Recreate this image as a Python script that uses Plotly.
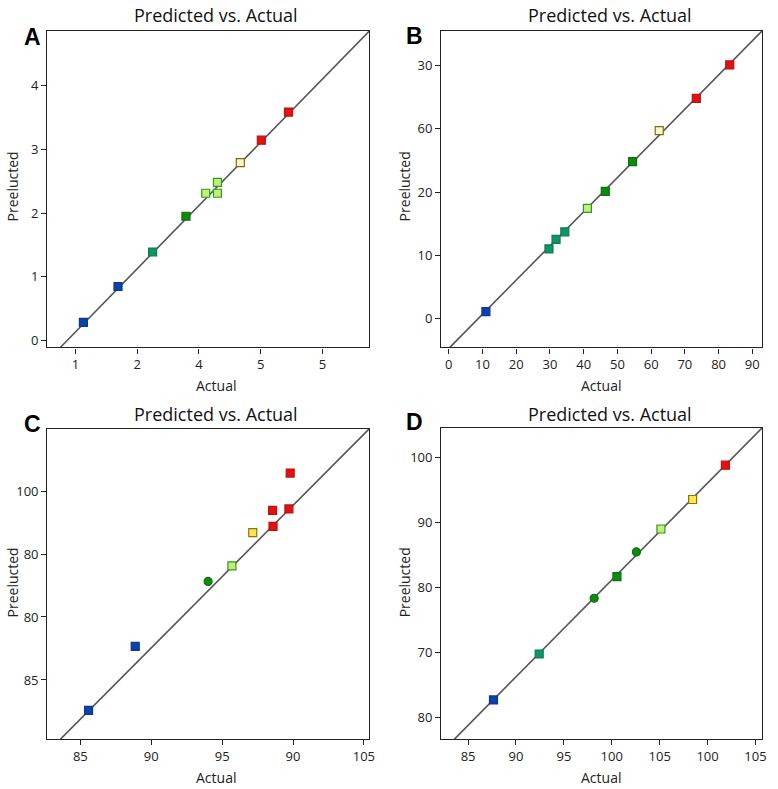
import plotly.graph_objects as go

# ---------------- data ----------------
# Panel A
a_actual = [1.13, 1.69, 2.25, 2.79, 3.11, 3.30, 3.30, 3.67, 4.01, 4.45]
a_pred = [0.29, 0.85, 1.39, 1.95, 2.31, 2.48, 2.31, 2.79, 3.14, 3.58]
a_xticks = [1, 2, 3, 4, 5]
a_xtext = ["1", "2", "4", "5", "5"]
a_yticks = [0, 1, 2, 3, 4]
a_ytext = ["0", "1", "2", "3", "4"]
a_diag_x = [0.76, 5.76]
a_diag_y = [-0.10, 4.85]

# Panel B
b_actual = [11.0, 29.7, 31.8, 34.4, 41.1, 46.4, 54.5, 62.4, 73.4, 83.3]
b_pred = [1.1, 11.0, 12.5, 13.7, 17.4, 20.1, 24.8, 29.7, 34.8, 40.1]
b_xticks = [0, 10, 20, 30, 40, 50, 60, 70, 80, 90]
b_xtext = ["0", "10", "20", "30", "40", "50", "60", "70", "80", "90"]
b_yticks = [0, 10, 20, 30, 40]
b_ytext = ["0", "10", "20", "60", "30"]
b_diag_x = [0.3, 92.9]
b_diag_y = [-4.57, 45.47]

# Panel C
c_actual = [85.58, 88.87, 94.01, 95.69, 97.16, 98.59, 98.56, 99.71, 99.80]
c_pred = [82.58, 87.67, 92.82, 94.06, 96.70, 97.20, 98.47, 98.58, 101.43]
c_xticks = [85, 90, 95, 100, 105]
c_xtext = ["85", "90", "95", "90", "105"]
c_yticks = [85, 90, 95, 100]
c_ytext = ["85", "80", "80", "100"]
c_diag_x = [83.6, 105.39]
c_diag_y = [80.30, 104.96]

# Panel D
d_actual = [87.65, 92.42, 98.16, 100.54, 102.57, 105.13, 108.44, 111.86]
d_pred = [62.76, 69.82, 78.40, 81.73, 85.52, 89.05, 93.59, 98.87]
d_xticks = [85, 90, 95, 100, 105, 110, 115]
d_xtext = ["85", "90", "95", "100", "105", "100", "105"]
d_yticks = [60, 70, 80, 90, 100]
d_ytext = ["80", "70", "80", "90", "100"]
d_diag_x = [83.58, 115.69]
d_diag_y = [56.73, 104.6]

# ---------------- styles ----------------
BLUE = ("#0b43a8", "#0a3a90")
TEAL = ("#109565", "#0d7a52")
GREEN = ("#0f8a10", "#0c700c")
LGREEN = ("#c2ee7a", "#2f9a22")
PYELLOW = ("#fbf6c8", "#7a6d10")
YELLOW = ("#ffe64a", "#8a7410")
RED = ("#e31212", "#c01010")

a_style = [BLUE, BLUE, TEAL, GREEN, LGREEN, LGREEN, LGREEN, PYELLOW, RED, RED]
a_sym = ["square"] * 10
b_style = [BLUE, TEAL, TEAL, TEAL, LGREEN, GREEN, GREEN, PYELLOW, RED, RED]
b_sym = ["square"] * 10
c_style = [BLUE, BLUE, GREEN, LGREEN, YELLOW, RED, RED, RED, RED]
c_sym = ["square", "square", "circle"] + ["square"] * 6
d_style = [BLUE, TEAL, GREEN, GREEN, GREEN, LGREEN, YELLOW, RED]
d_sym = ["square", "square", "circle", "square", "circle", "square", "square", "square"]

W, H = 778, 789
FONT = "Open Sans"

panels = [
    dict(x=a_actual, y=a_pred, xt=a_xticks, xtt=a_xtext, yt=a_yticks, ytt=a_ytext,
         dx=a_diag_x, dy=a_diag_y, st=a_style, sym=a_sym,
         xr=[0.546, 5.76], yr=[-0.103, 4.85], box=(47.7, 372.3, 31, 348.3),
         letter="A", lpos=(33, 37), tpos=(218, 15), ypos=(13, 187), xlpos=(218, 386)),
    dict(x=b_actual, y=b_pred, xt=b_xticks, xtt=b_xtext, yt=b_yticks, ytt=b_ytext,
         dx=b_diag_x, dy=b_diag_y, st=b_style, sym=b_sym,
         xr=[-2.24, 92.9], yr=[-4.57, 45.47], box=(444.7, 768, 31, 348.3),
         letter="B", lpos=(418, 36), tpos=(615, 15), ypos=(408, 187), xlpos=(606, 386)),
    dict(x=c_actual, y=c_pred, xt=c_xticks, xtt=c_xtext, yt=c_yticks, ytt=c_ytext,
         dx=c_diag_x, dy=c_diag_y, st=c_style, sym=c_sym,
         xr=[82.67, 105.39], yr=[80.30, 104.96], box=(47.7, 372.3, 429.7, 741),
         letter="C", lpos=(33, 425), tpos=(218, 415), ypos=(13, 584), xlpos=(218, 779)),
    dict(x=d_actual, y=d_pred, xt=d_xticks, xtt=d_xtext, yt=d_yticks, ytt=d_ytext,
         dx=d_diag_x, dy=d_diag_y, st=d_style, sym=d_sym,
         xr=[82.2, 115.69], yr=[56.73, 104.6], box=(444.7, 768, 429, 741),
         letter="D", lpos=(418, 423), tpos=(615, 415), ypos=(408, 584), xlpos=(606, 779)),
]

fig = go.Figure()
annotations = []
for i, p in enumerate(panels, start=1):
    xa = "x" if i == 1 else f"x{i}"
    ya = "y" if i == 1 else f"y{i}"
    fig.add_trace(go.Scatter(x=p["dx"], y=p["dy"], mode="lines",
                             line=dict(color="#555555", width=1.6),
                             xaxis=xa, yaxis=ya, showlegend=False, hoverinfo="skip"))
    fig.add_trace(go.Scatter(x=p["x"], y=p["y"], mode="markers",
                             marker=dict(symbol=p["sym"], size=8,
                                         color=[s[0] for s in p["st"]],
                                         line=dict(color=[s[1] for s in p["st"]], width=1.2)),
                             xaxis=xa, yaxis=ya, showlegend=False))
    x0, x1, y0, y1 = p["box"]
    axcommon = dict(showgrid=False, zeroline=False, showline=True, mirror=True,
                    linecolor="#222222", linewidth=1.4, ticks="outside", ticklen=5,
                    tickcolor="#222222", tickwidth=1,
                    tickfont=dict(family=FONT, size=13, color="#222222"))
    fig.update_layout(**{
        ("xaxis" if i == 1 else f"xaxis{i}"): dict(
            axcommon, domain=[x0 / W, x1 / W], range=p["xr"], anchor=ya,
            tickmode="array", tickvals=p["xt"], ticktext=p["xtt"]),
        ("yaxis" if i == 1 else f"yaxis{i}"): dict(
            axcommon, domain=[1 - y1 / H, 1 - y0 / H], range=p["yr"], anchor=xa,
            tickmode="array", tickvals=p["yt"], ticktext=p["ytt"]),
    })
    annotations.append(dict(text="Predicted vs. Actual", x=p["tpos"][0] / W, y=1 - p["tpos"][1] / H,
                            xref="paper", yref="paper", showarrow=False, xanchor="center", yanchor="middle",
                            font=dict(family=FONT, size=18, color="#111111")))
    annotations.append(dict(text="<b>" + p["letter"] + "</b>", x=p["lpos"][0] / W, y=1 - p["lpos"][1] / H,
                            xref="paper", yref="paper", showarrow=False, xanchor="center", yanchor="middle",
                            font=dict(family="Liberation Sans", size=23, color="#000000")))
    annotations.append(dict(text="Actual", x=p["xlpos"][0] / W, y=1 - p["xlpos"][1] / H,
                            xref="paper", yref="paper", showarrow=False, xanchor="center", yanchor="middle",
                            font=dict(family=FONT, size=14, color="#222222")))
    annotations.append(dict(text="Preelucted", x=p["ypos"][0] / W, y=1 - p["ypos"][1] / H,
                            xref="paper", yref="paper", showarrow=False, xanchor="center", yanchor="middle",
                            textangle=-90,
                            font=dict(family=FONT, size=14, color="#222222")))

fig.update_layout(width=W, height=H, margin=dict(l=0, r=0, t=0, b=0),
                  paper_bgcolor="white", plot_bgcolor="white",
                  annotations=annotations)
fig.write_html("out.html")
